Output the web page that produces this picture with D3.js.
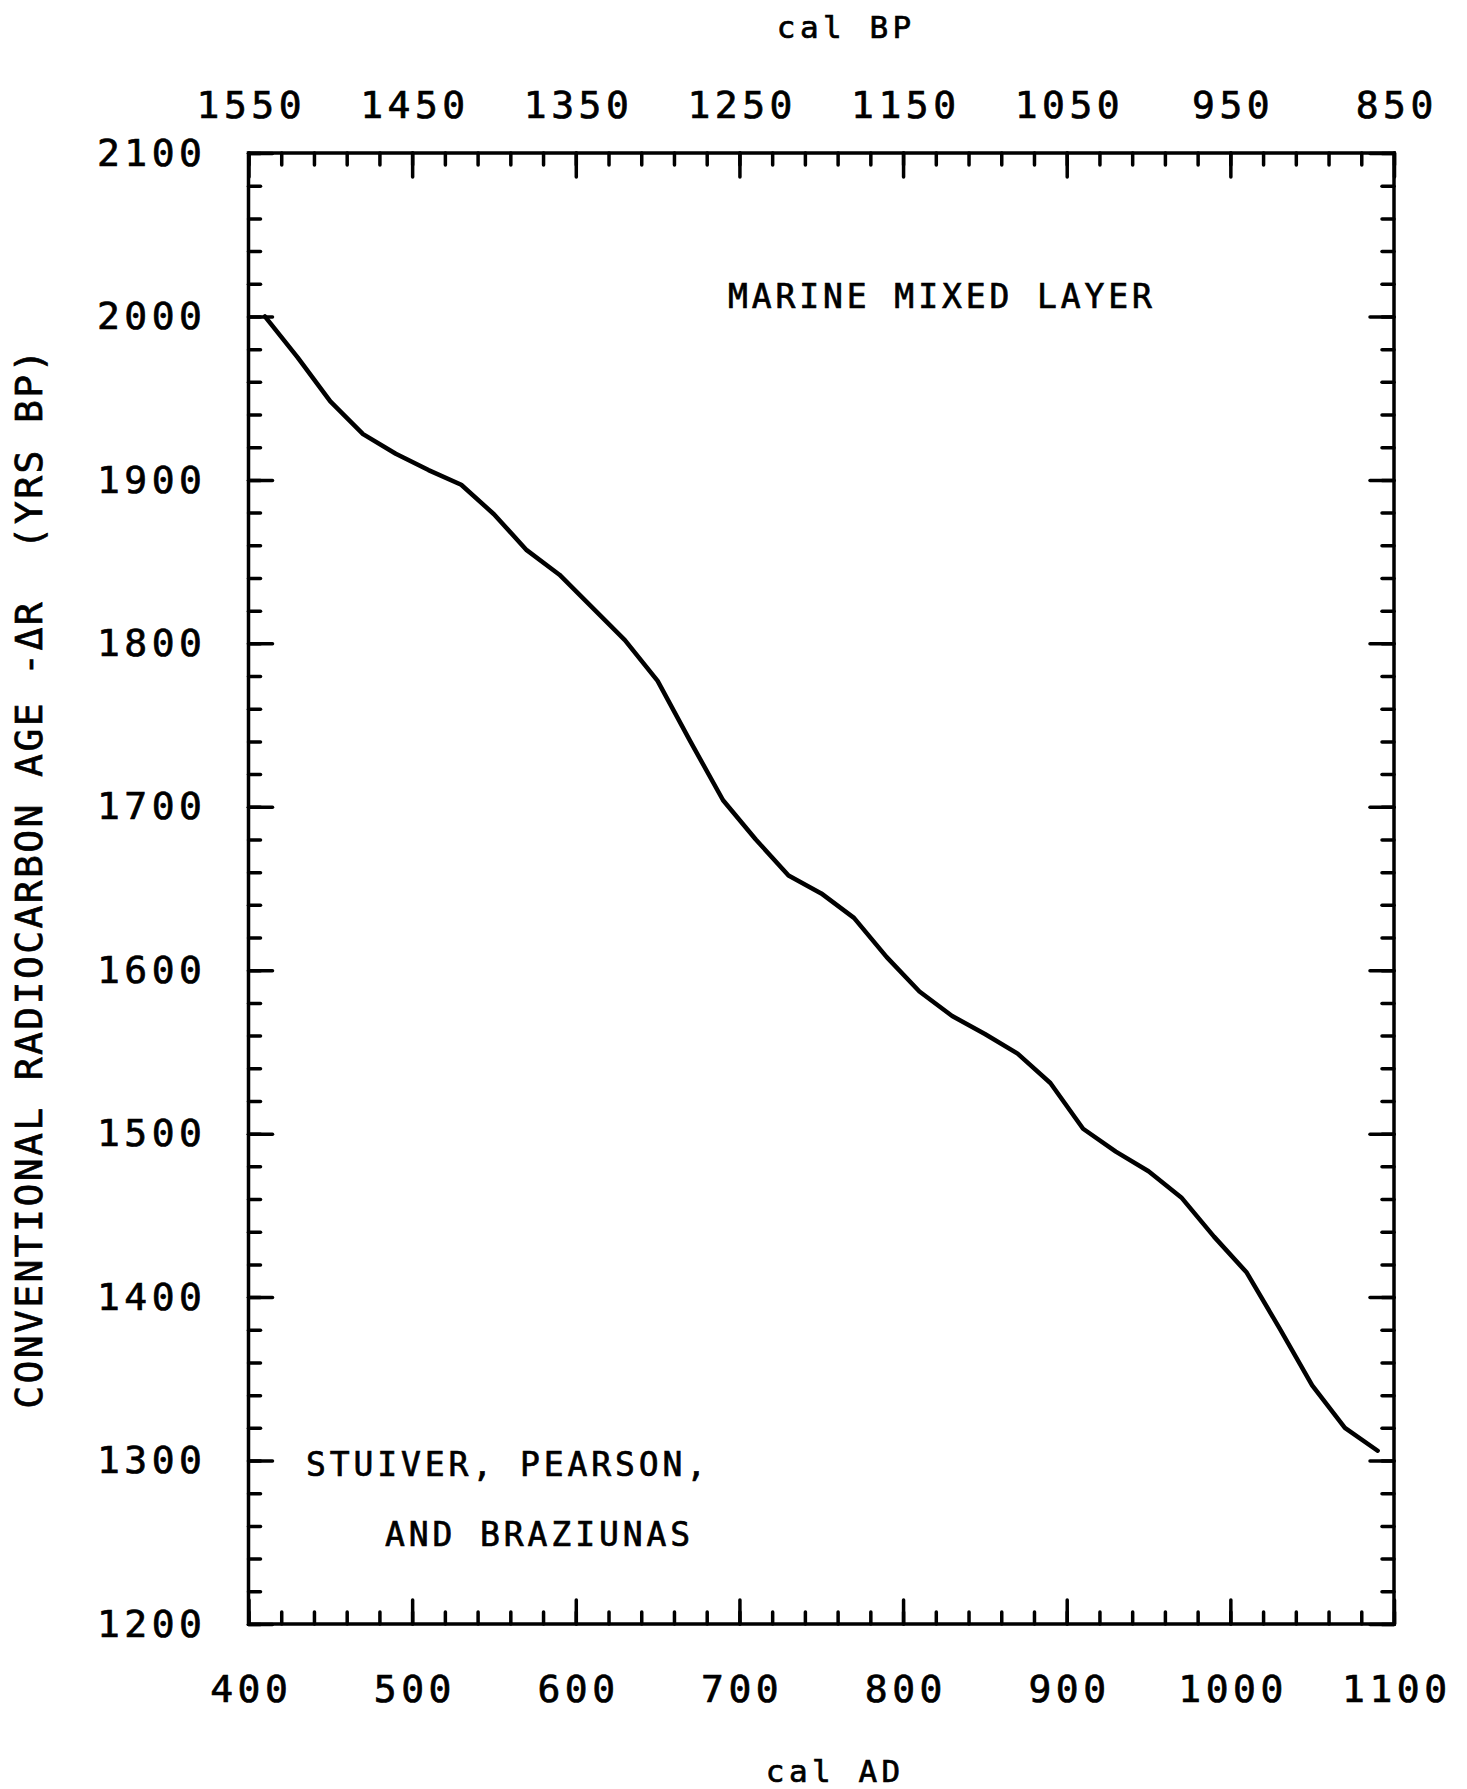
<!DOCTYPE html>
<html>
<head>
<meta charset="utf-8">
<script src="https://cdn.jsdelivr.net/npm/d3@7"></script>
<style>
  body { margin: 0; background: #fff; }
  svg text { font-family: "DejaVu Sans Mono", monospace; fill: #000; stroke: #000; stroke-width: 0.7px; }
</style>
</head>
<body>
<div id="chart"></div>
<script>
// marine mixed layer curve, every 20 cal yrs
let calAD = [410, 430, 450, 470, 490, 510, 530, 550, 570, 590, 610, 630, 650, 670, 690,
             710, 730, 750, 770, 790, 810, 830, 850, 870, 890, 910, 930, 950, 970, 990,
             1010, 1030, 1050, 1070, 1090]
let ageBP = [2000, 1975, 1948, 1928, 1916, 1906, 1897, 1879, 1857, 1842, 1822, 1802, 1777, 1740, 1704,
             1680, 1658, 1647, 1632, 1608, 1587, 1572, 1561, 1549, 1531, 1503, 1489, 1477, 1461, 1437,
             1415, 1381, 1346, 1320, 1306]

let adTicks = [400, 500, 600, 700, 800, 900, 1000, 1100]
let bpTicks = [1550, 1450, 1350, 1250, 1150, 1050, 950, 850]
let ageTicks = [1200, 1300, 1400, 1500, 1600, 1700, 1800, 1900, 2000, 2100]

let width = 1467, height = 1789
let box = {left: 248.5, right: 1394, top: 153, bottom: 1624}
let lw = 3.5

let svg = d3.select("#chart").append("svg")
    .attr("width", width)
    .attr("height", height)

let x = d3.scaleLinear().domain([400, 1100]).range([box.left, box.right])
let xBP = d3.scaleLinear().domain([1550, 850]).range([box.left, box.right])
let y = d3.scaleLinear().domain([1200, 2100]).range([box.bottom, box.top])

// ticks point inward, minor every 20 yrs, major every 100
let drawAxis = function(axisFn, scale, minorVals, majorVals, pos, pad, showLabels) {
    let g = svg.append("g").attr("transform", pos)
    g.call(axisFn(scale).tickValues(minorVals).tickSize(-12).tickSizeOuter(0).tickFormat(""))
    g.append("g").call(axisFn(scale).tickValues(majorVals).tickSize(-24).tickSizeOuter(0)
        .tickPadding(pad).tickFormat(showLabels ? d => d : ""))
    g.selectAll(".domain").remove()
    g.selectAll("line").attr("stroke", "#000").attr("stroke-width", lw).attr("stroke-linecap", "round")
    g.selectAll("text")
        .attr("font-family", "DejaVu Sans Mono")
        .attr("font-size", 38)
        .attr("letter-spacing", 4.5)
        .attr("fill", "#000")
    g.attr("font-family", null).attr("font-size", null)
    return g
}

let bottomAx = drawAxis(d3.axisBottom, x, d3.range(400, 1101, 20), adTicks,
    `translate(0,${box.bottom})`, 51, true)
bottomAx.selectAll("text").attr("dx", 2.25)

let topAx = drawAxis(d3.axisTop, xBP, d3.range(1550, 849, -20), bpTicks,
    `translate(0,${box.top})`, 35, true)
topAx.selectAll("text").attr("dx", 2.25)

let leftAx = drawAxis(d3.axisLeft, y, d3.range(1200, 2101, 20), ageTicks,
    `translate(${box.left},0)`, 42, true)

drawAxis(d3.axisRight, y, d3.range(1200, 2101, 20), ageTicks,
    `translate(${box.right},0)`, 0, false)

// frame
svg.append("rect")
    .attr("x", box.left).attr("y", box.top)
    .attr("width", box.right - box.left).attr("height", box.bottom - box.top)
    .attr("fill", "none").attr("stroke", "#000").attr("stroke-width", lw)

// curve
let line = d3.line()
    .x((d, i) => x(calAD[i]))
    .y(d => y(d))

svg.append("path")
    .datum(ageBP)
    .attr("d", line)
    .attr("fill", "none")
    .attr("stroke", "#000")
    .attr("stroke-width", 4.5)
    .attr("stroke-linejoin", "round")
    .attr("stroke-linecap", "round")

// axis titles
svg.append("text")
    .attr("x", 844).attr("y", 38)
    .attr("text-anchor", "middle")
    .attr("font-size", 31).attr("letter-spacing", 4.5).attr("dx", 2.25)
    .text("cal BP")

svg.append("text")
    .attr("x", 833).attr("y", 1782)
    .attr("text-anchor", "middle")
    .attr("font-size", 31).attr("letter-spacing", 4.5).attr("dx", 2.25)
    .text("cal AD")

svg.append("text")
    .attr("transform", "translate(42,878) rotate(-90)")
    .attr("text-anchor", "middle")
    .attr("font-size", 38).attr("letter-spacing", 2.4)
    .attr("xml:space", "preserve")
    .text("CONVENTIONAL RADIOCARBON AGE -ΔR  (YRS BP)")

// annotations
let notes = [
    {t: "MARINE MIXED LAYER", x: 728, y: 308},
    {t: "STUIVER, PEARSON,", x: 306, y: 1476},
    {t: "AND BRAZIUNAS", x: 385, y: 1546}
]
svg.selectAll("text.note")
    .data(notes)
    .enter().append("text")
    .attr("class", "note")
    .attr("x", d => d.x).attr("y", d => d.y)
    .attr("font-size", 33).attr("letter-spacing", 3.9)
    .text(d => d.t)
</script>
</body>
</html>
